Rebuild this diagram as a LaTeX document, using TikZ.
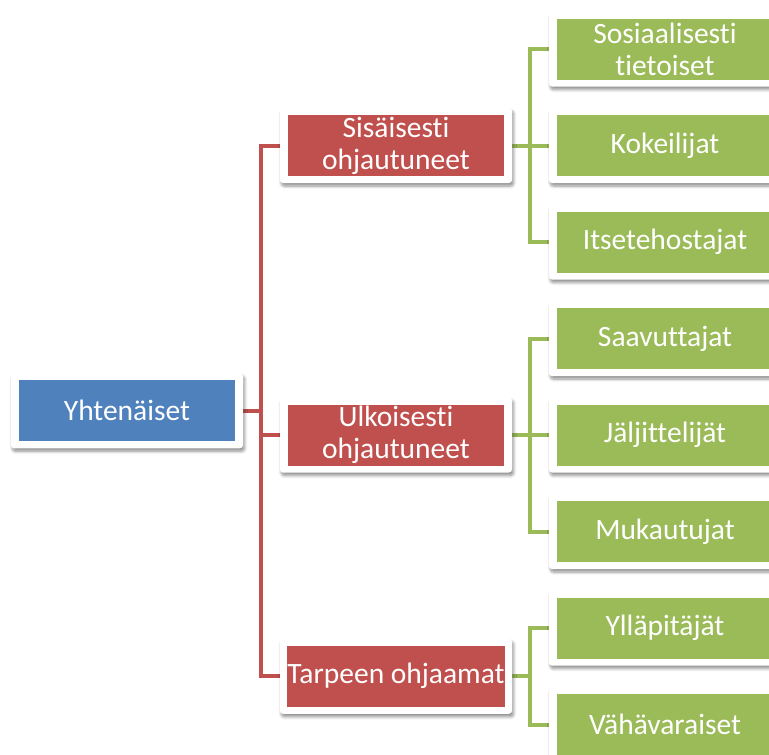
\documentclass[tikz,border=0pt]{standalone}
\usepackage{fontspec}
\setmainfont{Carlito}[Ligatures={NoCommon,NoContextual}]
\usetikzlibrary{shadows.blur,backgrounds}
\definecolor{cblue}{HTML}{4F81BD}
\definecolor{cred}{HTML}{C0504D}
\definecolor{cgreen}{HTML}{9BBB59}
\tikzset{
  frame/.style={fill=white, draw=none, rounded corners=3pt, minimum width=232pt, minimum height=75pt, inner sep=0pt,
    blur shadow={shadow xshift=1.5pt, shadow yshift=-3pt, shadow blur steps=6, shadow blur radius=3pt, shadow opacity=45}},
  inner/.style={draw=none, minimum width=216pt, minimum height=61pt, inner sep=0pt, text=white, align=center,
    font=\fontsize{29.5}{32}\selectfont},
  bluebox/.style={inner, fill=cblue},
  redbox/.style={inner, fill=cred},
  greenbox/.style={inner, fill=cgreen},
  redline/.style={draw=cred, line width=4pt},
  greenline/.style={draw=cgreen, line width=4pt},
}
\begin{document}
\begin{tikzpicture}[x=1pt,y=-1pt]
\useasboundingbox (0,0) rectangle (769,755);
\clip (0,0) rectangle (769,755);
% root
\node[frame] (f0) at (127,410.75) {};
\node[bluebox] (root) at (127,410.75) {Yhtenäiset};
% red level
\node[frame] (fr1) at (396,145.5) {};
\node[redbox] (r1) at (396,145.5) {Sisäisesti\\ohjautuneet};
\node[frame] (fr2) at (396,435) {};
\node[redbox] (r2) at (396,435) {Ulkoisesti\\ohjautuneet};
\node[frame] (fr3) at (396,676.25) {};
\node[redbox] (r3) at (396,676.25) {Tarpeen ohjaamat};
% green level
\node[frame] (fg1) at (665,49) {};
\node[greenbox] (g1) at (665,49) {Sosiaalisesti\\tietoiset};
\node[frame] (fg2) at (665,145.5) {};
\node[greenbox] (g2) at (665,145.5) {Kokeilijat};
\node[frame] (fg3) at (665,242) {};
\node[greenbox] (g3) at (665,242) {Itsetehostajat};
\node[frame] (fg4) at (665,338.5) {};
\node[greenbox] (g4) at (665,338.5) {Saavuttajat};
\node[frame] (fg5) at (665,435) {};
\node[greenbox] (g5) at (665,435) {Jäljittelijät};
\node[frame] (fg6) at (665,531.5) {};
\node[greenbox] (g6) at (665,531.5) {Mukautujat};
\node[frame] (fg7) at (665,628) {};
\node[greenbox] (g7) at (665,628) {Ylläpitäjät};
\node[frame] (fg8) at (665,724.5) {};
\node[greenbox] (g8) at (665,724.5) {Vähävaraiset};
\begin{pgfonlayer}{background}
\foreach \t in {fr1,fr2,fr3}
  \draw[redline] (f0.east) -- ++(18,0) |- (\t.west);
\foreach \t in {fg1,fg2,fg3}
  \draw[greenline] (fr1.east) -- ++(18,0) |- (\t.west);
\foreach \t in {fg4,fg5,fg6}
  \draw[greenline] (fr2.east) -- ++(18,0) |- (\t.west);
\foreach \t in {fg7,fg8}
  \draw[greenline] (fr3.east) -- ++(18,0) |- (\t.west);
\end{pgfonlayer}
\end{tikzpicture}
\end{document}
